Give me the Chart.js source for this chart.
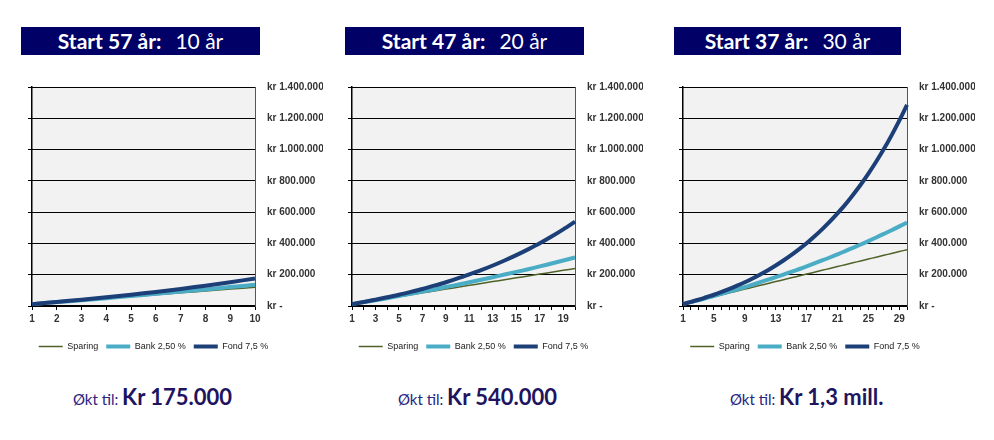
<!DOCTYPE html>
<html>
<head>
<meta charset="utf-8">
<script src="https://cdn.jsdelivr.net/npm/chart.js@4"></script>
<style>
  body { margin: 0; background: #fff; width: 994px; height: 440px; position: relative; overflow: hidden; }
  .banner { position: absolute; top: 27px; height: 28px; background: #000066; color: #fff;
    font-family: Lato, sans-serif; font-size: 21px; line-height: 28px; text-align: center; white-space: nowrap; }
  .banner b { font-weight: 700; }
  .banner span { font-weight: 400; margin-left: 14px; }
  .box { position: absolute; top: 69px; height: 295px; }
  .cap { position: absolute; top: 383px; font-family: Lato, sans-serif; white-space: nowrap; }
  .cap .a { font-size: 15px; color: #2a2380; }
  .cap .b { font-size: 22px; font-weight: 700; color: #21145f; }
</style>
</head>
<body>
<div class="banner" style="left:21px;width:239px"><b>Start 57 år:</b><span>10 år</span></div>
<div class="banner" style="left:345px;width:239px"><b>Start 47 år:</b><span>20 år</span></div>
<div class="banner" style="left:674px;width:227px"><b>Start 37 år:</b><span>30 år</span></div>

<div class="box" style="left:22px;width:306px"><canvas id="c1"></canvas></div>
<div class="box" style="left:342px;width:306px"><canvas id="c2"></canvas></div>
<div class="box" style="left:673px;width:307px"><canvas id="c3"></canvas></div>

<div class="cap" style="left:73px"><span class="a">Økt til: </span><span class="b">Kr 175.000</span></div>
<div class="cap" style="left:398px"><span class="a">Økt til: </span><span class="b">Kr 540.000</span></div>
<div class="cap" style="left:730px"><span class="a">Økt til: </span><span class="b">Kr 1,3 mill.</span></div>

<script>
// år 1-30, innskudd 12 000 kr per år
const years = [1,2,3,4,5,6,7,8,9,10,11,12,13,14,15,16,17,18,19,20,21,22,23,24,25,26,27,28,29,30];
const sparing = [12000,24000,36000,48000,60000,72000,84000,96000,108000,120000,
  132000,144000,156000,168000,180000,192000,204000,216000,228000,240000,
  252000,264000,276000,288000,300000,312000,324000,336000,348000,360000];
const bank = [12000,25000,37000,50000,64000,78000,92000,106000,121000,136000,
  152000,168000,184000,201000,218000,235000,253000,272000,291000,310000,
  330000,351000,372000,393000,415000,438000,461000,484000,509000,533000];
const fond = [12000,26000,40000,56000,72000,90000,109000,130000,152000,176000,
  202000,229000,259000,291000,325000,362000,401000,444000,490000,539000,
  592000,648000,710000,775000,846000,922000,1003000,1091000,1185000,1286000];
const seriesNames = ["Sparing", "Bank 2,50 %", "Fond 7,5 %"];
const yTicks = [0, 200000, 400000, 600000, 800000, 1000000, 1200000, 1400000];

const narrow = "'Liberation Sans Narrow', 'Arial Narrow', 'Liberation Sans', sans-serif";

const plotBg = {
  id: "plotBg",
  beforeDraw(chart) {
    const { ctx, chartArea: a } = chart;
    ctx.save();
    ctx.fillStyle = "#f2f2f2";
    ctx.fillRect(a.left, a.top, a.right - a.left, a.bottom - a.top);
    ctx.restore();
    // legend sits a bit left of centre in the original
    if (chart.legend && !chart.legend._moved) {
      chart.legend.left -= 22;
      chart.legend.right -= 22;
      chart.legend._moved = true;
    }
  },
};

function fmt(v) {
  if (v === 0) return "kr -";
  return "kr " + String(v).replace(/\B(?=(\d{3})+(?!\d))/g, ".");
}

function makeChart(id, n, step) {
  return new Chart(document.getElementById(id), {
    type: "line",
    data: {
      labels: years.slice(0, n),
      datasets: [
        { label: seriesNames[0], data: sparing.slice(0, n), borderColor: "#4f6228", backgroundColor: "#4f6228", borderWidth: 1.5, order: 3 },
        { label: seriesNames[1], data: bank.slice(0, n), borderColor: "#4bacc6", backgroundColor: "#4bacc6", borderWidth: 4, order: 2 },
        { label: seriesNames[2], data: fond.slice(0, n), borderColor: "#1c3f77", backgroundColor: "#1c3f77", borderWidth: 4, order: 1 },
      ],
    },
    options: {
      responsive: true,
      maintainAspectRatio: false,
      animation: false,
      elements: { point: { radius: 0, pointStyle: "line" }, line: { tension: 0.3 } },
      layout: { padding: { left: 6, right: 5, top: 0, bottom: 3 } },
      plugins: {
        tooltip: { enabled: false },
        legend: {
          position: "bottom",
          labels: {
            usePointStyle: true,
            pointStyle: "line",
            pointStyleWidth: 24,
            padding: 8,
            color: "#222",
            font: { family: narrow, size: 9 },
            sort: (a, b) => a.datasetIndex - b.datasetIndex,
          },
        },
      },
      scales: {
        x: {
          offset: false,
          grid: { drawOnChartArea: false, tickLength: 4, color: "#000" },
          border: { color: "#000", width: 1.5 },
          ticks: {
            autoSkip: false,
            maxRotation: 0,
            color: "#333",
            font: { family: narrow, size: 10, weight: "bold" },
            callback: (v, i) => (i % step === 0 ? years[i] : ""),
          },
          afterFit: (s) => { s.height = 28; },
        },
        yl: {
          position: "left",
          min: 0, max: 1400000,
          afterBuildTicks: (s) => { s.ticks = yTicks.map((v) => ({ value: v })); },
          grid: { drawOnChartArea: false, tickLength: 4, color: "#000" },
          border: { color: "#000", width: 1.5 },
          ticks: { display: false },
          afterFit: (s) => { s.width = 4; },
        },
        y: {
          position: "right",
          min: 0, max: 1400000,
          afterBuildTicks: (s) => { s.ticks = yTicks.map((v) => ({ value: v })); },
          grid: { color: "#000", lineWidth: 1, drawTicks: false },
          border: { color: "#555", width: 1 },
          ticks: {
            padding: 12,
            color: "#333",
            font: { family: narrow, size: 10, weight: "bold" },
            callback: fmt,
          },
          afterFit: (s) => { s.width = 68; },
        },
      },
    },
    plugins: [plotBg],
  });
}

makeChart("c1", 10, 1);
makeChart("c2", 20, 2);
makeChart("c3", 30, 4);
</script>
</body>
</html>
